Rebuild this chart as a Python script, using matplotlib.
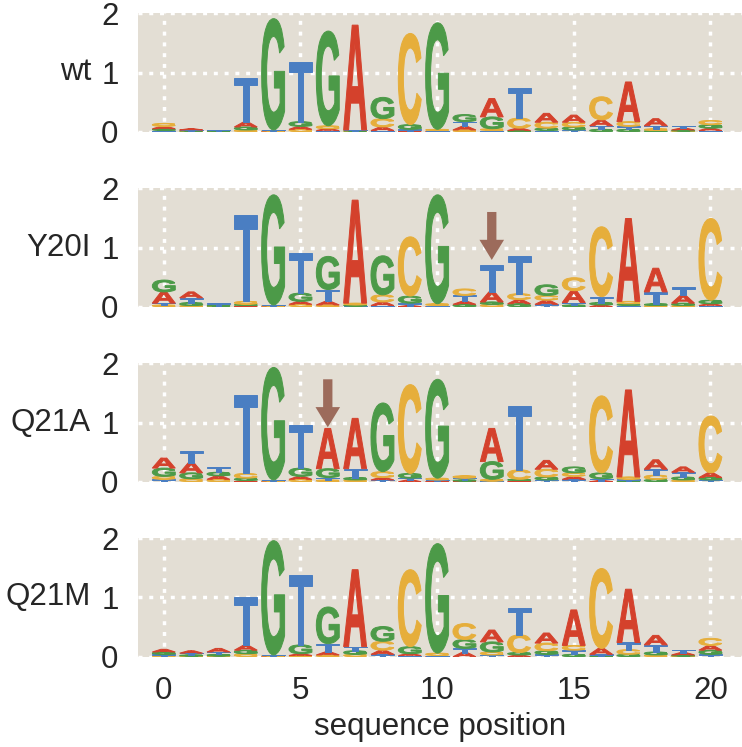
import numpy as np
import matplotlib.pyplot as plt
from matplotlib.textpath import TextPath
from matplotlib.patches import PathPatch, FancyArrow
from matplotlib.font_manager import FontProperties
from matplotlib.transforms import Affine2D

plt.rcParams['font.family'] = ['Liberation Sans', 'DejaVu Sans']

# sequence positions and panel names
positions = list(range(21))
panel_names = ['wt', 'Y20I', 'Q21A', 'Q21M']

# information (bits) per letter
wt_A = [.04, .02, .005, .08, .01, .05, .03, 1.77, .06, .02, .01, .06, .31, .04, .15, .12, .10, .67, .12, .03, .04]
wt_C = [.05, .01, .005, .03, .01, .04, .05, .01, .14, 1.54, .02, .03, .03, .17, .10, .08, .39, .08, .03, .01, .07]
wt_G = [.03, .01, .005, .05, 1.88, .08, 1.60, .01, .36, .08, 1.80, .12, .20, .02, .04, .05, .04, .04, .02, .02, .06]
wt_T = [.02, .01, .02, .75, .01, 1.00, .02, .01, .02, .02, .01, .08, .02, .50, .02, .03, .06, .05, .05, .04, .02]

y20i_A = [.19, .10, .005, .02, .01, .05, .06, 1.74, .06, .02, .01, .05, .17, .07, .07, .20, .03, 1.40, .40, .13, .03]
y20i_C = [.03, .02, .005, .05, .01, .04, .03, .03, .12, 1.00, .03, .11, .04, .10, .08, .22, 1.18, .04, .02, .02, 1.38]
y20i_G = [.20, .05, .01, .02, 1.86, .14, .56, .02, .66, .12, 1.84, .04, .04, .05, .18, .03, .04, .03, .03, .04, .06]
y20i_T = [.03, .08, .04, 1.46, .01, .67, .20, .01, .02, .04, .01, .10, .45, .63, .04, .04, .10, .02, .20, .14, .02]

q21a_A = [.17, .17, .06, .02, .01, .05, .68, .85, .04, .03, .01, .01, .56, .02, .15, .05, .02, 1.47, .16, .09, .08]
q21a_C = [.05, .05, .04, .08, .01, .04, .03, .03, .10, 1.50, .03, .04, .03, .16, .13, .06, 1.30, .04, .07, .03, .96]
q21a_G = [.14, .10, .06, .04, 1.90, .14, .15, .04, 1.16, .08, 1.67, .02, .30, .02, .05, .10, .10, .01, .04, .05, .04]
q21a_T = [.04, .20, .08, 1.33, .01, .73, .04, .15, .03, .03, .02, .03, .01, 1.08, .03, .04, .03, .03, .10, .08, .03]

q21m_A = [.045, .04, .06, .08, .01, .03, .05, 1.30, .07, .03, .01, .07, .20, .03, .17, .60, .10, .90, .16, .04, .08]
q21m_C = [.02, .01, .01, .05, .01, .02, .03, .04, .15, 1.30, .04, .27, .05, .30, .13, .08, 1.35, .08, .03, .01, .12]
q21m_G = [.04, .02, .03, .06, 1.93, .15, .62, .06, .25, .12, 1.85, .15, .17, .04, .06, .04, .02, .04, .05, .02, .07]
q21m_T = [.02, .03, .04, .81, .01, 1.18, .14, .07, .04, .02, .01, .07, .03, .45, .04, .07, .02, .12, .12, .05, .04]

panel_data = [
    (wt_A, wt_C, wt_G, wt_T),
    (y20i_A, y20i_C, y20i_G, y20i_T),
    (q21a_A, q21a_C, q21a_G, q21a_T),
    (q21m_A, q21m_C, q21m_G, q21m_T),
]

# mutation arrows: panel index, position, top, tip
arrow_panels = [1, 2]
arrow_pos = [12, 6]
arrow_top = [1.60, 1.73]
arrow_tip = [0.79, 0.92]

letters = ['A', 'C', 'G', 'T']
colors = {'A': '#D4412C', 'C': '#E6AE3B', 'G': '#4C9A48', 'T': '#4A7EC2'}
arrow_color = '#9C6B5B'
bg_color = '#E3DED4'
text_color = '#262626'

fp = FontProperties(family='Liberation Sans', weight='bold')
_glyphs = {}


def draw_letter(ax, ch, x, y, w, h, color):
    if ch not in _glyphs:
        _glyphs[ch] = TextPath((0, 0), ch, size=1, prop=fp)
    path = _glyphs[ch]
    ext = path.get_extents()
    tr = (Affine2D()
          .translate(-ext.x0, -ext.y0)
          .scale(w / ext.width, h / ext.height)
          .translate(x - w / 2, y))
    ax.add_patch(PathPatch(tr.transform_path(path), facecolor=color,
                           edgecolor=color, linewidth=0.7, zorder=3))


fig = plt.figure(figsize=(7.42, 7.47), dpi=100)
W, H = 742, 747
ax_left, ax_right = 138, 742
px_per_unit = 27.33
x0_px = 163.8
letter_w = 0.84

axes = []
for k, name in enumerate(panel_names):
    top = 13.3 + 175 * k
    bot = top + 118.4
    ax = fig.add_axes([ax_left / W, 1 - bot / H, (ax_right - ax_left) / W, (bot - top) / H])
    ax.set_facecolor(bg_color)
    ax.set_xlim((ax_left - x0_px) / px_per_unit, (ax_right - x0_px) / px_per_unit)
    ax.set_ylim(0, 2)
    ax.set_yticks([0, 1, 2])
    ax.set_xticks([0, 5, 10, 15, 20])
    ax.set_axisbelow(True)
    ax.grid(True, color='white', linewidth=2.5, linestyle=(0, (1.15, 1.95)))
    for s in ax.spines.values():
        s.set_visible(False)
    ax.tick_params(length=0, labelsize=22.5, colors=text_color, pad=14)
    if k < 3:
        ax.set_xticklabels([])
    ax.text(91 / W, 0.5, name, transform=fig.transFigure, ha='right', va='center',
            fontsize=22.5, color=text_color)
    ax.texts[-1].set_transform(
        plt.matplotlib.transforms.blended_transform_factory(fig.transFigure, ax.transAxes))

    cols = panel_data[k]
    for i, p in enumerate(positions):
        stack = sorted([(cols[j][i], letters[j]) for j in range(4)])
        y = 0.0
        for h, ch in stack:
            draw_letter(ax, ch, p, y, letter_w, h, colors[ch])
            y += h
    axes.append(ax)

for pi, xp, yt, ytip in zip(arrow_panels, arrow_pos, arrow_top, arrow_tip):
    axes[pi].add_patch(FancyArrow(xp, yt, 0, ytip - yt, width=0.34, head_width=0.9,
                                  head_length=0.34, length_includes_head=True,
                                  color=arrow_color, linewidth=0, zorder=4))

axes[-1].set_xlabel('sequence position', fontsize=22.5, color=text_color, labelpad=4)

fig.savefig('out.png', dpi=100)
